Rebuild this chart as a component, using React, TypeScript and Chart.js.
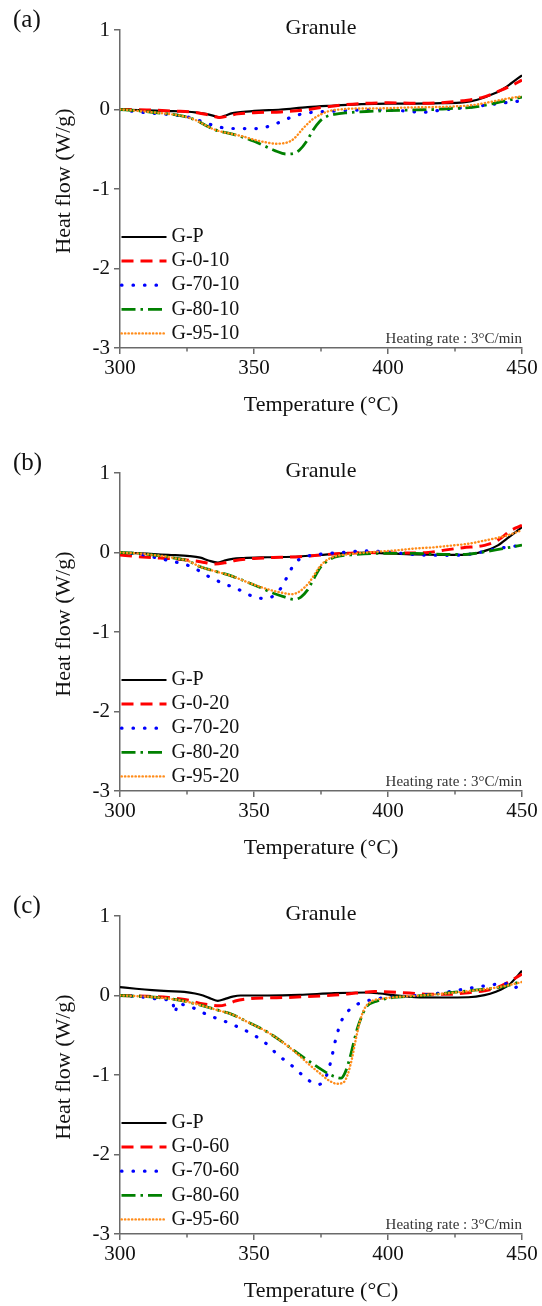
import React, { useEffect, useRef } from 'react';
import { Chart, registerables } from 'chart.js';

Chart.register(...registerables);

// ---------------- DATA ----------------
const X_MIN = 300;
const X_MAX = 450;
const X_MAJOR_STEP = 50;
const X_MINOR_TICKS = [325, 375, 425];
const Y_MIN = -3;
const Y_MAX = 1;
const Y_STEP = 1;

const PANEL_LABELS = ['(a)', '(b)', '(c)'];
const PANEL_TITLE = 'Granule';
const X_TITLE = 'Temperature (°C)';
const Y_TITLE = 'Heat flow (W/g)';
const NOTE = 'Heating rate : 3°C/min';

const NAMES_A = ['G-P', 'G-0-10', 'G-70-10', 'G-80-10', 'G-95-10'];
const NAMES_B = ['G-P', 'G-0-20', 'G-70-20', 'G-80-20', 'G-95-20'];
const NAMES_C = ['G-P', 'G-0-60', 'G-70-60', 'G-80-60', 'G-95-60'];

// Panel (a)
const a_GP_T = [300, 310, 320, 328, 332, 335, 337, 339, 342, 346, 352, 360, 370, 380, 390, 400, 410, 420, 428, 433, 438, 442, 446, 450];
const a_GP_V = [0, -0.01, -0.02, -0.035, -0.055, -0.08, -0.1, -0.08, -0.045, -0.03, -0.015, 0, 0.03, 0.05, 0.068, 0.075, 0.075, 0.08, 0.09, 0.12, 0.18, 0.24, 0.33, 0.43];
const a_G0_T = [300, 310, 320, 328, 332, 335, 337, 340, 344, 350, 360, 368, 375, 383, 390, 400, 410, 420, 428, 435, 442, 446, 450];
const a_G0_V = [0, -0.005, -0.02, -0.035, -0.06, -0.085, -0.1, -0.085, -0.055, -0.04, -0.03, -0.01, 0.025, 0.057, 0.075, 0.085, 0.078, 0.085, 0.11, 0.15, 0.24, 0.3, 0.37];
const a_G70_T = [300, 304, 308, 312, 316, 320, 324, 328, 332, 336, 340, 346, 352, 356, 360, 364, 368, 372, 380, 390, 398, 405, 410, 413, 417, 421, 426, 434, 442, 450];
const a_G70_V = [0, -0.02, -0.035, -0.048, -0.057, -0.068, -0.085, -0.12, -0.17, -0.21, -0.237, -0.24, -0.24, -0.205, -0.155, -0.095, -0.055, -0.035, -0.02, -0.006, -0.005, -0.015, -0.03, -0.036, -0.02, -0.005, 0.015, 0.044, 0.078, 0.11];
const a_G80_T = [300, 306, 312, 318, 323, 328, 332, 335, 338, 342, 346, 350, 354, 358, 362, 365, 367, 370, 372, 374.5, 377, 380, 385, 392, 400, 410, 417, 423, 429, 434, 438, 444, 450];
const a_G80_V = [0, -0.015, -0.035, -0.055, -0.08, -0.13, -0.2, -0.25, -0.28, -0.31, -0.35, -0.4, -0.46, -0.52, -0.56, -0.55, -0.51, -0.38, -0.26, -0.15, -0.09, -0.06, -0.04, -0.025, -0.015, -0.005, 0, 0.012, 0.02, 0.04, 0.065, 0.11, 0.155];
const a_G95_T = [300, 306, 312, 318, 323, 328, 332, 335, 338, 342, 346, 350, 354, 358, 361, 364, 366, 368, 370, 372, 375, 378, 382, 388, 398, 410, 423, 432, 439, 445, 450];
const a_G95_V = [0, -0.015, -0.035, -0.055, -0.08, -0.13, -0.2, -0.25, -0.28, -0.31, -0.34, -0.38, -0.41, -0.43, -0.425, -0.39, -0.33, -0.25, -0.18, -0.12, -0.06, -0.02, 0, 0.012, 0.015, 0.027, 0.036, 0.057, 0.1, 0.14, 0.165];

// Panel (b)
const b_GP_T = [300, 310, 318, 326, 330, 333, 336.5, 339, 342, 346, 355, 367, 375, 383, 392, 400, 410, 420, 428, 433, 437, 441, 445, 450];
const b_GP_V = [0, -0.015, -0.03, -0.045, -0.065, -0.1, -0.128, -0.1, -0.08, -0.07, -0.06, -0.05, -0.03, -0.012, 0, -0.012, -0.025, -0.03, -0.03, -0.01, 0.03, 0.09, 0.19, 0.32];
const b_G0_T = [300, 306, 315, 322, 330, 335.5, 339, 343, 350, 360, 367, 375, 383, 392, 400, 410, 415, 421, 428, 436, 441, 446, 450];
const b_G0_V = [-0.03, -0.05, -0.07, -0.085, -0.115, -0.145, -0.13, -0.1, -0.075, -0.06, -0.052, -0.03, -0.012, 0, -0.005, -0.005, 0, 0.03, 0.06, 0.09, 0.155, 0.28, 0.34];
const b_G70_T = [300, 304, 308, 312, 318, 322, 326, 330, 333, 336, 339, 343, 346, 350, 354, 357.5, 360, 362, 364, 366, 368.5, 374, 383, 392, 398, 405, 412, 420, 428, 434, 440, 445, 450];
const b_G70_V = [0, -0.01, -0.025, -0.055, -0.1, -0.13, -0.17, -0.24, -0.3, -0.35, -0.4, -0.44, -0.5, -0.555, -0.58, -0.54, -0.45, -0.33, -0.2, -0.11, -0.06, -0.025, 0, 0.02, 0.01, -0.01, -0.03, -0.035, -0.03, 0, 0.045, 0.07, 0.09];
const b_G80_T = [300, 308, 312, 317, 321, 325, 330, 336, 342, 348, 353, 357, 361, 365, 367.5, 370, 372, 374.5, 377, 380, 386, 398, 410, 423, 430, 436, 443, 450];
const b_G80_V = [0, -0.015, -0.03, -0.05, -0.075, -0.1, -0.18, -0.24, -0.3, -0.38, -0.45, -0.51, -0.555, -0.59, -0.56, -0.47, -0.35, -0.2, -0.115, -0.06, -0.03, -0.01, -0.012, -0.025, -0.02, 0.008, 0.05, 0.092];
const b_G95_T = [300, 308, 312, 317, 321, 325, 330, 336, 342, 348, 353, 357, 361, 364, 366.5, 368.5, 370.5, 372.5, 374.5, 377, 380, 386, 392, 398, 404, 410, 417, 423, 430, 436, 441, 445, 450];
const b_G95_V = [0, -0.015, -0.03, -0.05, -0.075, -0.1, -0.18, -0.24, -0.3, -0.38, -0.44, -0.48, -0.51, -0.525, -0.5, -0.45, -0.38, -0.28, -0.18, -0.1, -0.05, -0.02, 0, 0.015, 0.03, 0.05, 0.065, 0.085, 0.11, 0.15, 0.185, 0.22, 0.28];

// Panel (c)
const c_GP_T = [300, 306, 312, 318, 324, 328, 331, 334, 336.5, 339, 342, 345, 355, 367, 380, 392, 397, 402, 410, 420, 430, 436, 440, 445, 450];
const c_GP_V = [0.105, 0.085, 0.068, 0.055, 0.045, 0.025, 0, -0.04, -0.067, -0.045, -0.015, 0, 0, 0.008, 0.03, 0.038, 0.025, 0.005, -0.02, -0.025, -0.022, 0.005, 0.045, 0.13, 0.31];
const c_G0_T = [300, 310, 318, 322, 326, 330, 334, 337, 340, 343, 348, 355, 362, 370, 380, 388, 395, 401, 408, 415, 422, 430, 436, 440, 445, 450];
const c_G0_V = [0, -0.01, -0.025, -0.04, -0.063, -0.1, -0.12, -0.13, -0.11, -0.07, -0.04, -0.03, -0.025, -0.013, 0.005, 0.03, 0.05, 0.045, 0.03, 0.015, 0.015, 0.035, 0.06, 0.09, 0.17, 0.27];
const c_G70_T = [300, 305, 310, 316, 319.5, 320.5, 321.5, 324, 328, 333, 338, 343, 349, 354, 359, 364, 368, 371, 374, 376.5, 378.5, 380.5, 382.5, 385, 388, 392, 396, 402, 410, 418, 425, 430, 438, 443, 446, 447.5, 449, 450];
const c_G70_V = [0, -0.01, -0.025, -0.05, -0.065, -0.22, -0.1, -0.12, -0.165, -0.25, -0.31, -0.38, -0.48, -0.59, -0.75, -0.88, -1.0, -1.08, -1.12, -1.05, -0.85, -0.55, -0.33, -0.2, -0.12, -0.07, -0.04, -0.02, 0, 0.025, 0.06, 0.09, 0.13, 0.15, 0.14, 0.1, 0.15, 0.19];
const c_G80_T = [300, 310, 317, 323, 330, 336, 342, 348, 354, 360, 366, 372, 377, 380, 382.5, 384, 385.5, 387, 388.5, 390, 392, 395.5, 401, 410, 423, 436, 443, 450];
const c_G80_V = [0, -0.015, -0.035, -0.065, -0.12, -0.18, -0.24, -0.34, -0.44, -0.57, -0.72, -0.86, -0.97, -1.02, -1.04, -0.97, -0.82, -0.62, -0.42, -0.28, -0.14, -0.075, -0.03, -0.008, 0.035, 0.08, 0.11, 0.18];
const c_G95_T = [300, 310, 317, 323, 330, 336, 342, 348, 354, 360, 366, 371, 375, 378, 381, 383.5, 385, 386.5, 388, 389.5, 391, 393.5, 398, 405, 412, 423, 436, 443, 450];
const c_G95_V = [0, -0.015, -0.035, -0.065, -0.12, -0.18, -0.24, -0.34, -0.44, -0.57, -0.73, -0.88, -0.99, -1.07, -1.11, -1.09, -0.99, -0.8, -0.55, -0.33, -0.18, -0.08, -0.04, -0.015, 0, 0.03, 0.08, 0.115, 0.17];

const PANEL_A_TEMPS = [a_GP_T, a_G0_T, a_G70_T, a_G80_T, a_G95_T];
const PANEL_A_FLOWS = [a_GP_V, a_G0_V, a_G70_V, a_G80_V, a_G95_V];
const PANEL_B_TEMPS = [b_GP_T, b_G0_T, b_G70_T, b_G80_T, b_G95_T];
const PANEL_B_FLOWS = [b_GP_V, b_G0_V, b_G70_V, b_G80_V, b_G95_V];
const PANEL_C_TEMPS = [c_GP_T, c_G0_T, c_G70_T, c_G80_T, c_G95_T];
const PANEL_C_FLOWS = [c_GP_V, c_G0_V, c_G70_V, c_G80_V, c_G95_V];

// ---------------- STYLE ----------------
const FONT = '"Liberation Serif", "Times New Roman", serif';
const TEXT = '#111111';
const AXIS = '#6a6a6a';
const W = 542;
const H = 443;
const PANEL_TOPS = [0, 443, 886];

const STYLES = [
  { color: '#000000', width: 2.2, dash: [] as number[], cap: 'butt' },
  { color: '#ff0000', width: 3, dash: [12, 7], cap: 'butt' },
  { color: '#0000ff', width: 3.2, dash: [0.5, 11], cap: 'round' },
  { color: '#008000', width: 2.8, dash: [14, 5, 2.5, 5], cap: 'butt' },
  { color: '#ff8c1a', width: 2.4, dash: [0.3, 3.2], cap: 'round' },
];

const decorPlugin = {
  id: 'decor',
  afterDraw(chart: any, _args: any, opts: any) {
    const { ctx, chartArea } = chart;
    const xs = chart.scales.x;
    ctx.save();
    // minor x ticks
    ctx.strokeStyle = AXIS;
    ctx.lineWidth = 1.5;
    for (const t of X_MINOR_TICKS) {
      const px = xs.getPixelForValue(t);
      ctx.beginPath();
      ctx.moveTo(px, chartArea.bottom);
      ctx.lineTo(px, chartArea.bottom + 3.5);
      ctx.stroke();
    }
    ctx.fillStyle = TEXT;
    // panel label
    ctx.font = `25px ${FONT}`;
    ctx.textAlign = 'left';
    ctx.textBaseline = 'alphabetic';
    ctx.fillText(opts.panel, 13, 27);
    // title
    ctx.font = `22px ${FONT}`;
    ctx.textAlign = 'center';
    ctx.fillText(PANEL_TITLE, (chartArea.left + chartArea.right) / 2, 34);
    // y title
    ctx.save();
    ctx.translate(64, 181);
    ctx.rotate(-Math.PI / 2);
    ctx.textBaseline = 'middle';
    ctx.fillText(Y_TITLE, 0, 0);
    ctx.restore();
    // note
    ctx.font = `15px ${FONT}`;
    ctx.textAlign = 'right';
    ctx.fillStyle = '#333333';
    ctx.fillText(NOTE, chartArea.right, chartArea.bottom - 5);
    // legend
    ctx.font = `20px ${FONT}`;
    ctx.textAlign = 'left';
    ctx.textBaseline = 'middle';
    chart.data.datasets.forEach((ds: any, i: number) => {
      const y = chartArea.top + 207 + i * 24.1;
      const x0 = chartArea.left + 1.5;
      ctx.save();
      ctx.strokeStyle = ds.borderColor;
      ctx.lineWidth = ds.borderWidth;
      ctx.setLineDash(ds.borderDash || []);
      ctx.lineCap = ds.borderCapStyle || 'butt';
      ctx.beginPath();
      ctx.moveTo(x0, y);
      ctx.lineTo(x0 + 45, y);
      ctx.stroke();
      ctx.restore();
      ctx.fillStyle = TEXT;
      ctx.fillText(ds.label, x0 + 50, y);
    });
    ctx.restore();
  },
};

function buildConfig(names: string[], temps: number[][], flows: number[][], panel: string): any {
  return {
    type: 'line',
    data: {
      datasets: names.map((name, i) => ({
        label: name,
        data: temps[i].map((t, k) => ({ x: t, y: flows[i][k] })),
        borderColor: STYLES[i].color,
        borderWidth: STYLES[i].width,
        borderDash: STYLES[i].dash,
        borderCapStyle: STYLES[i].cap,
        pointRadius: 0,
        fill: false,
        cubicInterpolationMode: 'monotone',
        order: names.length - 1 - i,
      })),
    },
    options: {
      responsive: false,
      animation: false,
      events: [],
      layout: { padding: { left: 0, right: 20, top: 30, bottom: 0 } },
      plugins: {
        legend: { display: false },
        tooltip: { enabled: false },
        title: { display: false },
        decor: { panel },
      },
      scales: {
        x: {
          type: 'linear',
          min: X_MIN,
          max: X_MAX,
          afterFit: (s: any) => { s.height = 95; },
          border: { display: true, color: AXIS, width: 1.5 },
          grid: { drawOnChartArea: false, drawTicks: true, tickLength: 6, color: AXIS, lineWidth: 1.5 },
          ticks: { stepSize: X_MAJOR_STEP, autoSkip: false, maxRotation: 0, padding: 2, color: TEXT, font: { family: FONT, size: 21 } },
          title: { display: true, text: X_TITLE, color: TEXT, font: { family: FONT, size: 22 }, padding: { top: 0, bottom: 24.8 } },
        },
        y: {
          type: 'linear',
          min: Y_MIN,
          max: Y_MAX,
          afterFit: (s: any) => { s.width = 120; },
          border: { display: true, color: AXIS, width: 1.5 },
          grid: { drawOnChartArea: false, drawTicks: true, tickLength: 6, color: AXIS, lineWidth: 1.5 },
          ticks: { stepSize: Y_STEP, padding: 4, color: TEXT, font: { family: FONT, size: 21 } },
        },
      },
    },
    plugins: [decorPlugin],
  };
}

function Panel({ idx, names, temps, flows }: { idx: number; names: string[]; temps: number[][]; flows: number[][] }) {
  const ref = useRef<HTMLCanvasElement | null>(null);
  useEffect(() => {
    if (!ref.current) return;
    const chart = new Chart(ref.current, buildConfig(names, temps, flows, PANEL_LABELS[idx]));
    return () => chart.destroy();
  }, []);
  return (
    <canvas
      ref={ref}
      width={W}
      height={H}
      style={{ position: 'absolute', left: 0, top: PANEL_TOPS[idx], width: W, height: H, display: 'block' }}
    />
  );
}

export default function App() {
  return (
    <div style={{ position: 'absolute', left: 0, top: 0, width: W, height: 1306, overflow: 'hidden', background: '#ffffff' }}>
      <Panel idx={0} names={NAMES_A} temps={PANEL_A_TEMPS} flows={PANEL_A_FLOWS} />
      <Panel idx={1} names={NAMES_B} temps={PANEL_B_TEMPS} flows={PANEL_B_FLOWS} />
      <Panel idx={2} names={NAMES_C} temps={PANEL_C_TEMPS} flows={PANEL_C_FLOWS} />
    </div>
  );
}
